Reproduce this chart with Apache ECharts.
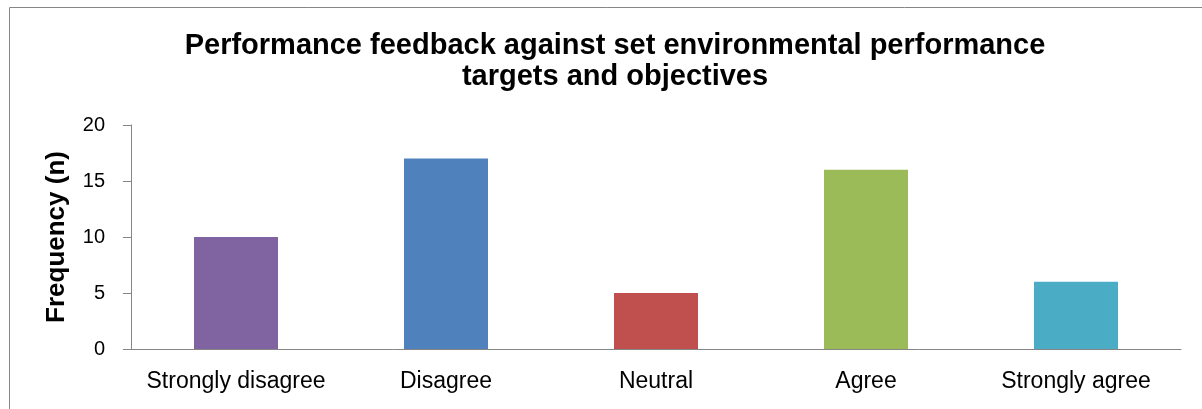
<!DOCTYPE html>
<html>
<head>
<meta charset="utf-8">
<script src="https://cdn.jsdelivr.net/npm/echarts@6/dist/echarts.min.js"></script>
<style>
html,body{margin:0;padding:0;background:#fff;}
#c{width:1202px;height:409px;}
</style>
</head>
<body>
<div id="c"></div>
<script>
const categories = ['Strongly disagree', 'Disagree', 'Neutral', 'Agree', 'Strongly agree'];
const values = [10, 17, 5, 16, 6];
const barColors = ['#8064A2', '#4F81BD', '#C0504D', '#9BBB59', '#4BACC6'];
const titleText = 'Performance feedback against set environmental performance\ntargets and objectives';
const yAxisName = 'Frequency (n)';

const chart = echarts.init(document.getElementById('c'), null, {renderer: 'canvas'});
chart.setOption({
  animation: false,
  backgroundColor: '#fff',
  graphic: [{
    type: 'rect', left: 7, top: 5, z: -10,
    shape: {width: 1300, height: 500},
    style: {fill: 'none', stroke: '#868686', lineWidth: 1}
  }],
  title: {
    text: titleText,
    left: 610, top: 25, textAlign: 'center',
    textStyle: {fontFamily: 'Liberation Sans, Arial, sans-serif', fontSize: 29, fontWeight: 'bold', color: '#000', lineHeight: 31}
  },
  grid: {left: 131, right: 21, top: 125, bottom: 60, containLabel: false},
  xAxis: {
    type: 'category',
    data: categories,
    axisLine: {lineStyle: {color: '#868686', width: 1}},
    axisTick: {show: false},
    axisLabel: {fontFamily: 'Liberation Sans, Arial, sans-serif', fontSize: 23, color: '#000', margin: 21, interval: 0}
  },
  yAxis: {
    type: 'value', min: 0, max: 20, interval: 5,
    name: yAxisName, nameLocation: 'middle', nameGap: 61,
    nameTextStyle: {fontFamily: 'Liberation Sans, Arial, sans-serif', fontSize: 26, fontWeight: 'bold', color: '#000'},
    axisLine: {show: true, lineStyle: {color: '#868686', width: 1}},
    axisTick: {show: true, length: 8, lineStyle: {color: '#868686'}},
    splitLine: {show: false},
    axisLabel: {fontFamily: 'Liberation Sans, Arial, sans-serif', fontSize: 20, color: '#000', margin: 26}
  },
  series: [{
    type: 'bar',
    barWidth: '40%',
    data: values.map((v, i) => ({value: v, itemStyle: {color: barColors[i]}}))
  }]
});
</script>
</body>
</html>
